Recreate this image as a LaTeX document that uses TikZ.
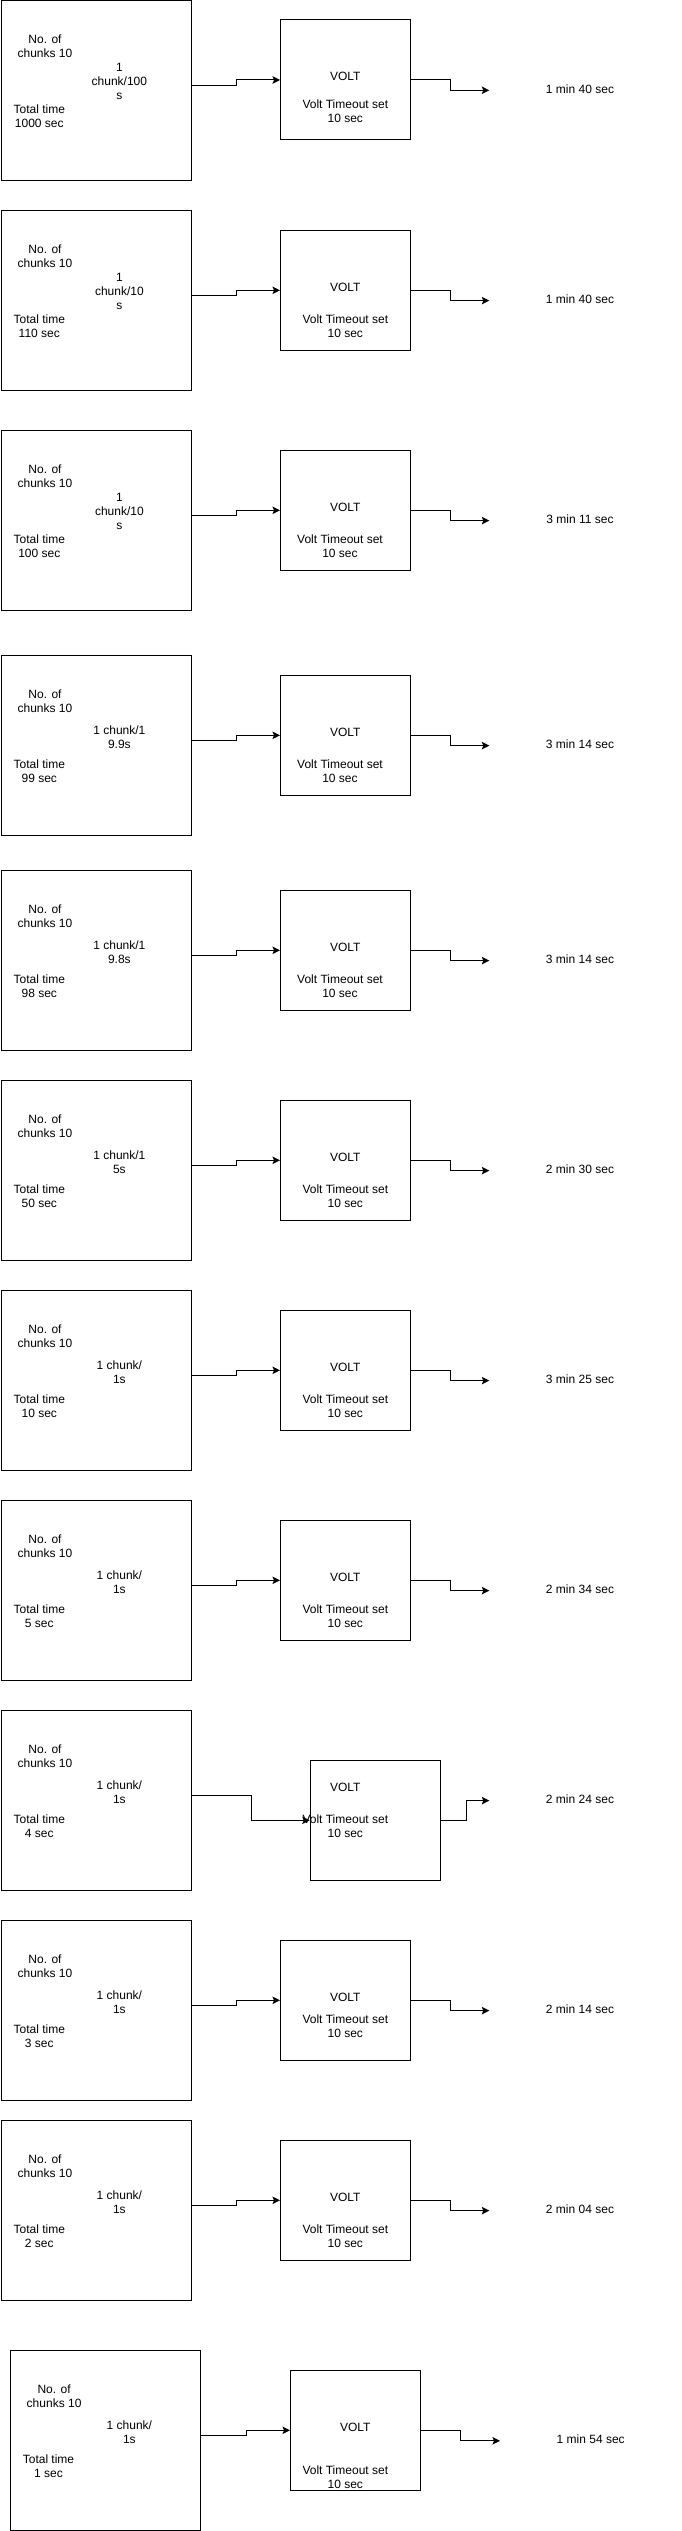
\documentclass[tikz,border=0pt]{standalone}
\usepackage{fontspec}
\setmainfont{Liberation Sans}
\usetikzlibrary{arrows.meta}
\tikzset{
  every node/.style={font=\fontsize{12}{14}\selectfont},
  box/.style={draw, line width=1pt, inner sep=0pt},
  leftbox/.style={box, minimum width=190pt, minimum height=180pt, anchor=north west},
  voltbox/.style={box, minimum width=130pt, minimum height=120pt},
  txt/.style={align=center, inner sep=0pt, yshift=-2.5pt, execute at begin node=\strut, execute at end node=\strut},
  res/.style={txt, minimum width=181pt, minimum height=20pt},
  arr/.style={line width=1pt, -{Stealth[length=7.5pt,width=7.5pt,inset=1.5pt]}}
}
\newcommand{\stdblock}[7]{%
  \begin{scope}[shift={(0,#2)}]
    \node[leftbox] (L#1) at (0.5,0) {};
    \node[txt] (N#1) at (45,45.5) {No. of\\chunks 10};
    \node[txt] (C#1) at (119.4,81) {#3};
    \node[txt] (T#1) at (39.3,115.5) {Total time\\#4};
    \node[voltbox] (V#1) at (345.5,80) {};
    \node[txt] (VL#1) at (345.3,75.7) {VOLT};
    \node[txt] (VT#1) at (#5,#6) {Volt Timeout set\\10 sec};
    \node[res] (R#1) at (580,87.8) {#7};
    \draw[arr] ([yshift=5pt]L#1.east) -- ++(45,0) |- (V#1.west);
    \draw[arr] (V#1.east) -- ++(39.6,0) |- (R#1.west);
  \end{scope}}
\begin{document}
\begin{tikzpicture}[x=1pt,y=-1pt]
\useasboundingbox[fill=white] (0,0) rectangle (681,2531);
\stdblock{1}{0}{1\\chunk/100\\s}{1000 sec}{345.3}{110.5}{1 min 40 sec}
\stdblock{2}{210.3}{1\\chunk/10\\s}{110 sec}{345.3}{115.4}{1 min 40 sec}
\stdblock{3}{430.3}{1\\chunk/10\\s}{100 sec}{340}{115.4}{3 min 11 sec}
\stdblock{4}{655.3}{1 chunk/1\\9.9s}{99 sec}{340}{115.4}{3 min 14 sec}
\stdblock{5}{870.3}{1 chunk/1\\9.8s}{98 sec}{340}{115.4}{3 min 14 sec}
\stdblock{6}{1080.3}{1 chunk/1\\5s}{50 sec}{345.3}{115.4}{2 min 30 sec}
\stdblock{7}{1290.3}{1 chunk/\\1s}{10 sec}{345.3}{115.4}{3 min 25 sec}
\stdblock{8}{1500.3}{1 chunk/\\1s}{5 sec}{345.3}{115.4}{2 min 34 sec}
% block 9 (VOLT box moved right and down)
\begin{scope}[shift={(0,1710.3)}]
  \node[leftbox] (L9) at (0.5,0) {};
  \node[txt] (N9) at (45,45.5) {No. of\\chunks 10};
  \node[txt] (C9) at (119.4,81) {1 chunk/\\1s};
  \node[txt] (T9) at (39.3,115.5) {Total time\\4 sec};
  \node[voltbox] (V9) at (375.2,110) {};
  \node[txt] (VL9) at (345.3,75.7) {VOLT};
  \node[txt] (VT9) at (345.3,115.4) {Volt Timeout set\\10 sec};
  \node[res] (R9) at (580,87.8) {2 min 24 sec};
  \draw[arr] ([yshift=5pt]L9.east) -- ++(60.1,0) |- (V9.west);
  \draw[arr] (V9.east) -- ++(25.3,0) |- (R9.west);
\end{scope}
\stdblock{10}{1920.3}{1 chunk/\\1s}{3 sec}{345.3}{105.5}{2 min 14 sec}
\stdblock{11}{2120.3}{1 chunk/\\1s}{2 sec}{345.3}{115.4}{2 min 04 sec}
% block 12 (shifted right)
\begin{scope}[shift={(0,2350.3)}]
  \node[leftbox] (L12) at (10.4,0) {};
  \node[txt] (N12) at (54.1,45.5) {No. of\\chunks 10};
  \node[txt] (C12) at (129.4,81) {1 chunk/\\1s};
  \node[txt] (T12) at (48.5,115.5) {Total time\\1 sec};
  \node[voltbox] (V12) at (355.5,80) {};
  \node[txt] (VL12) at (355.3,75.7) {VOLT};
  \node[txt] (VT12) at (345.3,126) {Volt Timeout set\\10 sec};
  \node[res] (R12) at (590.7,88) {1 min 54 sec};
  \draw[arr] ([yshift=5pt]L12.east) -- ++(45,0) |- (V12.west);
  \draw[arr] (V12.east) -- ++(39.5,0) |- (R12.west);
\end{scope}
\end{tikzpicture}
\end{document}
